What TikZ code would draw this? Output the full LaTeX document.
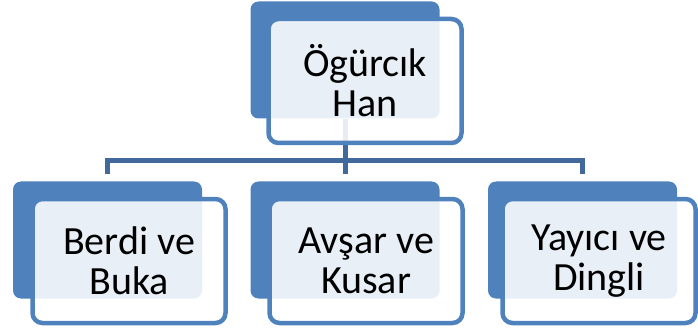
\documentclass[tikz,border=0pt]{standalone}
\usepackage{fontspec}
\setmainfont{Carlito}
\usepackage{xcolor}
\usepackage{tikz}
\definecolor{boxblue}{HTML}{4F81BD}
\definecolor{lineblue}{HTML}{41699B}

\begin{document}
\begin{tikzpicture}[x=1pt, y=-1pt,
  backbox/.style={rectangle, fill=boxblue, rounded corners=8pt,
    minimum width=189pt, minimum height=117pt, inner sep=0pt},
  frontbox/.style={rectangle, draw=boxblue, line width=4.5pt, fill=white,
    fill opacity=0.88, text opacity=1, rounded corners=10pt,
    minimum width=193pt, minimum height=124pt, inner sep=0pt, align=center,
    font=\fontsize{40}{40}\selectfont},
  conn/.style={draw=lineblue, line width=5pt}
]
  \useasboundingbox (0,0) rectangle (698,331);

  \node[backbox] (hanb)   at (345,60)    {};
  \node[backbox] (berdib) at (107.5,240) {};
  \node[backbox] (avsarb) at (345,240)   {};
  \node[backbox] (yayib)  at (582.5,240) {};

  \coordinate (bar) at (345,161);
  \draw[conn] (hanb.south) -- (bar);
  \draw[conn, shorten >=7pt] (bar) -| (berdib.north);
  \draw[conn, shorten >=7pt] (bar) -- (avsarb.north);
  \draw[conn, shorten >=7pt] (bar) -| (yayib.north);

  \node[frontbox] (han)   at (365,81)  {Ögürcık\\Han};
  \node[frontbox] (berdi) at (129,261) {Berdi ve\\Buka};
  \node[frontbox] (avsar) at (366,261) {Avşar ve\\Kusar};
  \node[frontbox] (yayi)  at (599,261) {Yayıcı ve\\Dingli};
\end{tikzpicture}
\end{document}
